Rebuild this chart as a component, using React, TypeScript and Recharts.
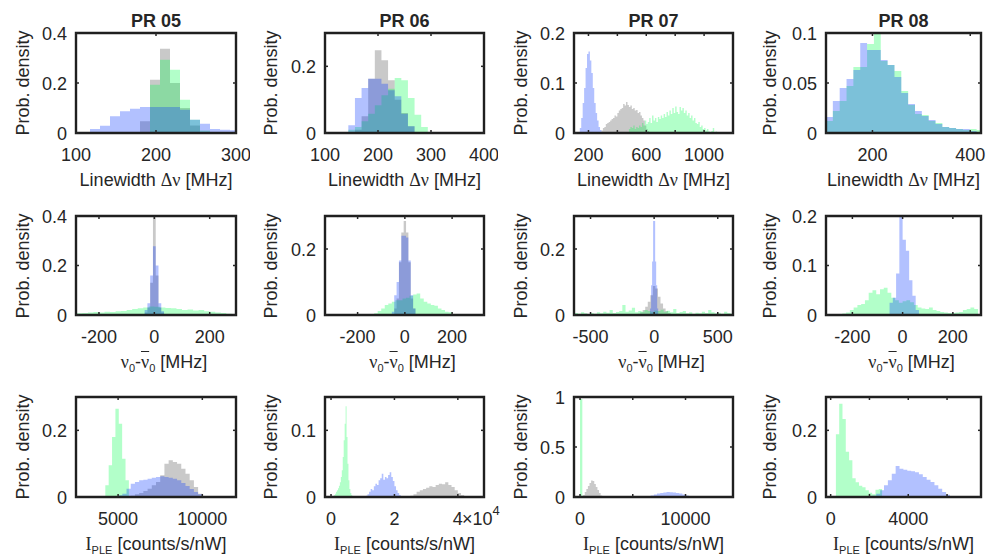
import React from 'react';
import { ComposedChart, Area, XAxis, YAxis, ReferenceArea } from 'recharts';

// histogram colours (drawn with low alpha, like MATLAB FaceAlpha)
const BLUE = '#0033ff';
const GREEN = '#00ff4d';
const GRAY = '#4d4d4d';
const INK = '#262626';
const BOX = '#1f1f1f';
const ALPHA = 0.3;
const SANS = '"Liberation Sans", Arial, Helvetica, sans-serif';
const SERIF = '"Liberation Serif", "Times New Roman", serif';

// ---- row 1: linewidth [MHz] ----
const lw05Gray = [0.047, 0.213, 0.337, 0.2, 0.1, 0.03];
const lw05Blue = [0.016, 0.029, 0.067, 0.087, 0.097, 0.104, 0.104, 0.104, 0.104, 0.093, 0.053, 0.037, 0.016, 0.013, 0.011];
const lw05Green = [0.193, 0.293, 0.253, 0.133, 0.053, 0.01];

const lw06Gray = [0.01, 0.05, 0.163, 0.248, 0.218, 0.158, 0.1, 0.06, 0.02];
const lw06Blue = [0.023, 0.105, 0.135, 0.163, 0.163, 0.148, 0.128, 0.11, 0.058, 0.02];
const lw06Green = [0.01, 0.018, 0.035, 0.058, 0.083, 0.113, 0.133, 0.165, 0.158, 0.105, 0.055, 0.018];

const lw07Blue = [0.01, 0.03, 0.06, 0.09, 0.13, 0.158, 0.163, 0.145, 0.12, 0.09, 0.06, 0.04, 0.025, 0.012, 0.006];
const lw07Gray = [
  0.005, 0.01, 0.012, 0.018, 0.02, 0.022, 0.025, 0.028, 0.03, 0.035, 0.033, 0.04, 0.045, 0.048, 0.05, 0.058, 0.055,
  0.062, 0.056, 0.052, 0.055, 0.048, 0.05, 0.045, 0.046, 0.04, 0.042, 0.035, 0.03, 0.025, 0.015, 0.008, 0.004,
];
const lw07Green = [
  0.008, 0.012, 0.01, 0.015, 0.008, 0.012, 0.01, 0.015, 0.012, 0.02, 0.015, 0.025, 0.018, 0.022, 0.03, 0.02,
  0.035, 0.025, 0.03, 0.022, 0.032, 0.028, 0.035, 0.03, 0.038, 0.032, 0.042, 0.035, 0.045, 0.038, 0.05, 0.04,
  0.053, 0.042, 0.038, 0.052, 0.045, 0.05, 0.04, 0.045, 0.035, 0.04, 0.03, 0.035, 0.025, 0.03, 0.02, 0.018,
  0.022, 0.012, 0.015, 0.008, 0.01, 0.005, 0.008, 0.003, 0, 0.004, 0.01, 0, 0.003,
];

const lw08Blue = [0.016, 0.032, 0.045, 0.054, 0.063, 0.09, 0.083, 0.083, 0.073, 0.068, 0.056, 0.04, 0.029, 0.022, 0.017, 0.013, 0.009, 0.006, 0.005, 0.004, 0.004, 0.002, 0.001];
const lw08Green = [0.012, 0.022, 0.032, 0.047, 0.066, 0.066, 0.089, 0.1, 0.072, 0.068, 0.062, 0.042, 0.028, 0.019, 0.018, 0.012, 0.01, 0.006, 0.005, 0.004, 0.003, 0.004, 0.003];

// ---- row 2: line position offset [MHz] ----
const of05Gray = [0.01, 0.03, 0.13, 0.395, 0.16, 0.03, 0.01];
const of05Blue = [0.02, 0.047, 0.16, 0.278, 0.2, 0.047, 0.015];
const of05Green = [
  0.007, 0.008, 0.01, 0.012, 0.01, 0.013, 0.012, 0.015, 0.016, 0.02, 0.024, 0.027, 0.03, 0.034, 0.033, 0.03,
  0.028, 0.027, 0.024, 0.02, 0.022, 0.018, 0.02, 0.015, 0.013, 0.01, 0.008, 0.005,
];

const of06Gray = [0.02, 0.05, 0.16, 0.25, 0.285, 0.25, 0.16, 0.05, 0.02];
const of06Blue = [0.01, 0.06, 0.1, 0.165, 0.24, 0.24, 0.235, 0.165, 0.06, 0.02];
const of06Green = [
  0.005, 0.012, 0.02, 0.03, 0.035, 0.04, 0.045, 0.045, 0.05, 0.052, 0.058, 0.062, 0.065, 0.05, 0.04, 0.035,
  0.03, 0.028, 0.02, 0.015, 0.01, 0.008,
];

const of07Gray = [0.004, 0.008, 0.015, 0.025, 0.04, 0.06, 0.088, 0.08, 0.055, 0.035, 0.02, 0.012, 0.006, 0.003];
const of07Blue = [0.02, 0.09, 0.162, 0.285, 0.285, 0.162, 0.09, 0.02];
const of07Green = [
  0.006, 0.004, 0.008, 0.005, 0.003, 0.006, 0.004, 0.008, 0.005, 0.01, 0.007, 0.015, 0.006, 0.009, 0.012, 0.03,
  0.01, 0.014, 0.022, 0.008, 0.012, 0.01, 0.015, 0.012, 0.01, 0.014, 0.012, 0.016, 0.01, 0.013, 0.008, 0.018,
  0.006, 0.009, 0.012, 0.005, 0.008, 0.004, 0.007, 0.005, 0.01, 0.006, 0.015, 0.008, 0.005, 0.007, 0.004, 0.01,
  0.006, 0.004,
];

const of08Blue = [0.025, 0.035, 0.084, 0.198, 0.152, 0.13, 0.07, 0.039, 0.01];
const of08Green = [
  0.003, 0.005, 0.01, 0.015, 0.02, 0.022, 0.03, 0.045, 0.05, 0.042, 0.052, 0.055, 0.045, 0.035, 0.03, 0.025,
  0.028, 0.03, 0.026, 0.02, 0.015, 0.013, 0.012, 0.015, 0.01, 0.008, 0.006, 0.005, 0.004, 0.004, 0.005, 0.006,
  0.01, 0.012, 0.015, 0.012,
];

// ---- row 3: PLE intensity [counts/s/nW] ----
const in05Green = [0.035, 0.095, 0.18, 0.265, 0.22, 0.115, 0.05];
const in05Blue = [0.005, 0.01, 0.025, 0.04, 0.045, 0.05, 0.052, 0.055, 0.058, 0.06, 0.062, 0.06, 0.058, 0.055, 0.05, 0.042, 0.033, 0.024, 0.015, 0.008, 0.003];
const in05Gray = [0.004, 0.008, 0.012, 0.018, 0.025, 0.035, 0.045, 0.065, 0.1, 0.11, 0.105, 0.1, 0.085, 0.07, 0.05, 0.03, 0.01];

const in06Green = [0.003, 0.005, 0.008, 0.01, 0.013, 0.017, 0.022, 0.03, 0.04, 0.06, 0.085, 0.11, 0.136, 0.09, 0.05, 0.025, 0.012, 0.006, 0.003, 0.001];
const in06Blue = [0.002, 0.004, 0.008, 0.012, 0.01, 0.016, 0.02, 0.018, 0.025, 0.028, 0.035, 0.026, 0.03, 0.028, 0.033, 0.037, 0.03, 0.024, 0.016, 0.01, 0.006, 0.003];
const in06Gray = [0.002, 0.004, 0.008, 0.01, 0.012, 0.014, 0.016, 0.015, 0.018, 0.02, 0.019, 0.022, 0.018, 0.015, 0.01, 0.006, 0.003];

const in07Green = [0.98];
const in07Gray = [0.02, 0.05, 0.08, 0.11, 0.14, 0.165, 0.16, 0.13, 0.1, 0.07, 0.04, 0.015];
const in07Blue = [0.005, 0.015, 0.025, 0.035, 0.04, 0.045, 0.05, 0.048, 0.045, 0.04, 0.035, 0.025, 0.015, 0.01, 0.005];

const in08Green = [0.188, 0.28, 0.234, 0.136, 0.11, 0.056, 0.044, 0.034, 0.029, 0.02, 0.013, 0.008, 0.022, 0.024];
const in08Blue = [0.004, 0.01, 0.02, 0.035, 0.05, 0.07, 0.093, 0.085, 0.082, 0.079, 0.077, 0.074, 0.068, 0.06, 0.052, 0.045, 0.035, 0.025, 0.015, 0.007, 0.003];

// ---- ticks ----
const lw05XTicks = [100, 200, 300];
const lw05XLabels = ['100', '200', '300'];
const lw06XTicks = [100, 200, 300, 400];
const lw06XLabels = ['100', '200', '300', '400'];
const lw07XTicks = [200, 400, 600, 800, 1000];
const lw07XLabels = ['200', '', '600', '', '1000'];
const lw08XTicks = [200, 400];
const lw08XLabels = ['200', '400'];
const ofXTicks = [-200, 0, 200];
const ofXLabels = ['-200', '0', '200'];
const of07XTicks = [-500, 0, 500];
const of07XLabels = ['-500', '0', '500'];
const in05XTicks = [5000, 10000];
const in05XLabels = ['5000', '10000'];
const in06XTicks = [0, 20000, 40000];
const in06XLabels = ['0', '2', '4'];
const in07XTicks = [0, 5000, 10000];
const in07XLabels = ['0', '', '10000'];
const in08XTicks = [0, 2000, 4000, 6000];
const in08XLabels = ['0', '', '4000', ''];

const y04Ticks = [0, 0.2, 0.4];
const y04Labels = ['0', '0.2', '0.4'];
const y03Ticks = [0, 0.2];
const y03Labels = ['0', '0.2'];
const y02Ticks = [0, 0.1, 0.2];
const y02Labels = ['0', '0.1', '0.2'];
const y01Ticks = [0, 0.05, 0.1];
const y01Labels = ['0', '0.05', '0.1'];
const y015Ticks = [0, 0.1];
const y015Labels = ['0', '0.1'];
const y1Ticks = [0, 0.5, 1];
const y1Labels = ['0', '0.5', '1'];

// layout of the plot boxes (px)
const COL_X = [76, 325, 574, 826];
const COL_W = [160, 159, 159, 155];
const ROW_Y = [33, 216, 397];
const ROW_H = [100, 99, 100];
const YLABEL_X = [23, 271, 521, 770];
const TITLES = ['PR 05', 'PR 06', 'PR 07', 'PR 08'];

type Hist = { key: string; color: string; start: number; width: number; v: number[] };
const hist = (key: string, color: string, start: number, width: number, v: number[]): Hist => ({ key, color, start, width, v });

type PanelDef = {
  row: number; col: number;
  xDomain: [number, number]; yDomain: [number, number];
  xTicks: number[]; xLabels: string[]; yTicks: number[]; yLabels: string[];
  hists: Hist[];
};

// drawing order: gray, green, blue (blue sits on top)
const PANELS: PanelDef[] = [
  { row: 0, col: 0, xDomain: [100, 300], yDomain: [0, 0.4], xTicks: lw05XTicks, xLabels: lw05XLabels, yTicks: y04Ticks, yLabels: y04Labels,
    hists: [hist('gray', GRAY, 180, 12.5, lw05Gray), hist('green', GREEN, 192.5, 12.5, lw05Green), hist('blue', BLUE, 117.5, 12.5, lw05Blue)] },
  { row: 0, col: 1, xDomain: [100, 400], yDomain: [0, 0.3], xTicks: lw06XTicks, xLabels: lw06XLabels, yTicks: y03Ticks, yLabels: y03Labels,
    hists: [hist('gray', GRAY, 156.5, 12.5, lw06Gray), hist('green', GREEN, 144, 12.5, lw06Green), hist('blue', BLUE, 144, 12.5, lw06Blue)] },
  { row: 0, col: 2, xDomain: [100, 1200], yDomain: [0, 0.2], xTicks: lw07XTicks, xLabels: lw07XLabels, yTicks: y02Ticks, yLabels: y02Labels,
    hists: [hist('gray', GRAY, 290, 10, lw07Gray), hist('green', GREEN, 480, 10, lw07Green), hist('blue', BLUE, 140, 10, lw07Blue)] },
  { row: 0, col: 3, xDomain: [105, 422], yDomain: [0, 0.1], xTicks: lw08XTicks, xLabels: lw08XLabels, yTicks: y01Ticks, yLabels: y01Labels,
    hists: [hist('green', GREEN, 105, 14, lw08Green), hist('blue', BLUE, 105, 14, lw08Blue)] },

  { row: 1, col: 0, xDomain: [-283, 295], yDomain: [0, 0.4], xTicks: ofXTicks, xLabels: ofXLabels, yTicks: y04Ticks, yLabels: y04Labels,
    hists: [hist('gray', GRAY, -35, 10, of05Gray), hist('green', GREEN, -280, 20, of05Green), hist('blue', BLUE, -35, 10, of05Blue)] },
  { row: 1, col: 1, xDomain: [-338, 335], yDomain: [0, 0.3], xTicks: ofXTicks, xLabels: ofXLabels, yTicks: y03Ticks, yLabels: y03Labels,
    hists: [hist('gray', GRAY, -45, 10, of06Gray), hist('green', GREEN, -130, 15, of06Green), hist('blue', BLUE, -55, 10, of06Blue)] },
  { row: 1, col: 2, xDomain: [-630, 620], yDomain: [0, 0.3], xTicks: of07XTicks, xLabels: of07XLabels, yTicks: y03Ticks, yLabels: y03Labels,
    hists: [hist('gray', GRAY, -130, 20, of07Gray), hist('green', GREEN, -625, 25, of07Green), hist('blue', BLUE, -32, 8, of07Blue)] },
  { row: 1, col: 3, xDomain: [-305, 312], yDomain: [0, 0.2], xTicks: ofXTicks, xLabels: ofXLabels, yTicks: y02Ticks, yLabels: y02Labels,
    hists: [hist('green', GREEN, -240, 15, of08Green), hist('blue', BLUE, -52, 13, of08Blue)] },

  { row: 2, col: 0, xDomain: [2500, 12000], yDomain: [0, 0.3], xTicks: in05XTicks, xLabels: in05XLabels, yTicks: y03Ticks, yLabels: y03Labels,
    hists: [hist('gray', GRAY, 5750, 250, in05Gray), hist('green', GREEN, 4240, 200, in05Green), hist('blue', BLUE, 5000, 250, in05Blue)] },
  { row: 2, col: 1, xDomain: [-1900, 48250], yDomain: [0, 0.15], xTicks: in06XTicks, xLabels: in06XLabels, yTicks: y015Ticks, yLabels: y015Labels,
    hists: [hist('gray', GRAY, 25000, 1000, in06Gray), hist('green', GREEN, 1000, 300, in06Green), hist('blue', BLUE, 11000, 500, in06Blue)] },
  { row: 2, col: 2, xDomain: [-570, 14500], yDomain: [0, 1], xTicks: in07XTicks, xLabels: in07XLabels, yTicks: y1Ticks, yLabels: y1Labels,
    hists: [hist('gray', GRAY, 300, 150, in07Gray), hist('green', GREEN, 0, 220, in07Green), hist('blue', BLUE, 6400, 300, in07Blue)] },
  { row: 2, col: 3, xDomain: [-240, 7750], yDomain: [0, 0.3], xTicks: in08XTicks, xLabels: in08XLabels, yTicks: y03Ticks, yLabels: y03Labels,
    hists: [hist('green', GREEN, 270, 170, in08Green), hist('blue', BLUE, 2150, 200, in08Blue)] },
];

// merge the histograms of a panel into one step table (value of each series at every bin edge)
function buildTable(hists: Hist[]) {
  const edges = new Set<number>();
  hists.forEach((h) => {
    for (let i = 0; i <= h.v.length; i++) edges.add(Math.round((h.start + i * h.width) * 1000) / 1000);
  });
  const xs = Array.from(edges).sort((a, b) => a - b);
  return xs.map((x) => {
    const row: Record<string, number> = { x };
    hists.forEach((h) => {
      const k = Math.floor((x - h.start) / h.width + 1e-9);
      row[h.key] = k >= 0 && k < h.v.length ? h.v[k] : 0;
    });
    return row;
  });
}

// space around the plot box inside each chart; axes take 1px each
const PAD_L = 70;
const PAD_R = 14;
const PAD_T = 8;
const PAD_B = 36;
const AX = 1;
const TICK = 3;
const axisLine = { stroke: BOX, strokeWidth: 2 };
const tickText = { fontFamily: SANS, fontSize: 18, fill: INK };

const labelOf = (ticks: number[], labels: string[], v: number) => {
  const i = ticks.findIndex((t) => Math.abs(t - v) < 1e-9);
  return i >= 0 ? labels[i] : '';
};

function Panel({ p }: { p: PanelDef }) {
  const data = buildTable(p.hists);
  const w = COL_W[p.col];
  const h = ROW_H[p.row];
  const bottomTick = (props: any) => (
    <g>
      <line x1={props.x} x2={props.x} y1={props.y} y2={props.y - TICK} stroke={INK} strokeWidth={1.5} />
      <text x={props.x} y={props.y + 28} textAnchor="middle" {...tickText} stroke="none">
        {labelOf(p.xTicks, p.xLabels, props.payload.value)}
      </text>
    </g>
  );
  const topTick = (props: any) => (
    <line x1={props.x} x2={props.x} y1={props.y} y2={props.y + TICK} stroke={INK} strokeWidth={1.5} />
  );
  const leftTick = (props: any) => (
    <g>
      <line x1={props.x} x2={props.x + TICK} y1={props.y} y2={props.y} stroke={INK} strokeWidth={1.5} />
      <text x={props.x - 9} y={props.y + 6.5} textAnchor="end" {...tickText} stroke="none">
        {labelOf(p.yTicks, p.yLabels, props.payload.value)}
      </text>
    </g>
  );
  const rightTick = (props: any) => (
    <line x1={props.x} x2={props.x - TICK} y1={props.y} y2={props.y} stroke={INK} strokeWidth={1.5} />
  );
  const common = { allowDataOverflow: true, interval: 0 as const, tickSize: 0, tickMargin: 0, tickLine: false, axisLine, stroke: BOX };

  return (
    <div style={{ position: 'absolute', left: COL_X[p.col] - PAD_L, top: ROW_Y[p.row] - PAD_T }}>
      <ComposedChart
        width={w + PAD_L + PAD_R}
        height={h + PAD_T + PAD_B}
        data={data}
        margin={{ top: PAD_T - AX, right: PAD_R - AX, bottom: PAD_B - AX, left: PAD_L - AX }}
      >
        {p.hists.map((hs) => (
          <Area key={hs.key} xAxisId="b" yAxisId="l" type="stepAfter" dataKey={hs.key} fill={hs.color}
            fillOpacity={ALPHA} stroke="none" dot={false} activeDot={false} isAnimationActive={false} />
        ))}
        <XAxis xAxisId="b" dataKey="x" type="number" domain={p.xDomain} ticks={p.xTicks} height={AX} tick={bottomTick} {...common} />
        <XAxis xAxisId="t" orientation="top" dataKey="x" type="number" domain={p.xDomain} ticks={p.xTicks} height={AX} tick={topTick} {...common} />
        <YAxis yAxisId="l" type="number" domain={p.yDomain} ticks={p.yTicks} width={AX} tick={leftTick} {...common} />
        <YAxis yAxisId="r" orientation="right" type="number" domain={p.yDomain} ticks={p.yTicks} width={AX} tick={rightTick} {...common} />
        {/* heavy axes box */}
        <ReferenceArea xAxisId="b" yAxisId="l" x1={p.xDomain[0]} x2={p.xDomain[1]} y1={p.yDomain[0]} y2={p.yDomain[1]}
          fill="none" fillOpacity={0} stroke={BOX} strokeWidth={2.4} strokeOpacity={1} ifOverflow="visible" />
      </ComposedChart>
    </div>
  );
}

const serif = { fontFamily: SERIF };
const sub = { fontSize: 11, position: 'relative' as const, top: 4 };

const X_LABELS = [
  <span>Linewidth <span style={serif}>Δν</span> [MHz]</span>,
  <span>
    <span style={serif}>ν</span><span style={sub}>0</span>-<span style={{ ...serif, textDecoration: 'overline' }}>ν</span>
    <span style={sub}>0</span> [MHz]
  </span>,
  <span><span style={serif}>I</span><span style={sub}>PLE</span> [counts/s/nW]</span>,
];
const X_LABEL_SHIFT = [0, 8, 0];

export default function App() {
  const text: React.CSSProperties = { position: 'absolute', fontFamily: SANS, fontSize: 18, color: INK, lineHeight: '20px', whiteSpace: 'nowrap', textAlign: 'center', width: 300 };
  return (
    <div style={{ position: 'absolute', left: 0, top: 0, width: 990, height: 557, background: '#fff', overflow: 'hidden' }}>
      {PANELS.map((p, i) => <Panel key={i} p={p} />)}

      {TITLES.map((t, c) => (
        <div key={t} style={{ ...text, fontWeight: 'bold', left: COL_X[c] + COL_W[c] / 2 - 150, top: 27 - 16 }}>{t}</div>
      ))}

      {ROW_Y.map((y, r) =>
        COL_X.map((x, c) => (
          <React.Fragment key={`${r}-${c}`}>
            <div style={{ ...text, left: x + COL_W[c] / 2 - 150 + X_LABEL_SHIFT[r], top: y + ROW_H[r] + 53 - 16 }}>{X_LABELS[r]}</div>
            <div style={{ ...text, width: 200, height: 20, left: YLABEL_X[c] - 100, top: y + ROW_H[r] / 2 - 10, transform: 'rotate(-90deg)' }}>
              Prob. density
            </div>
          </React.Fragment>
        ))
      )}

      {/* exponent of the PR 06 intensity axis */}
      <div style={{ ...text, textAlign: 'left', width: 60, left: 462, top: ROW_Y[2] + ROW_H[2] + 28 - 16 }}>
        ×10<span style={{ fontSize: 13, position: 'relative', top: -10 }}>4</span>
      </div>
    </div>
  );
}
